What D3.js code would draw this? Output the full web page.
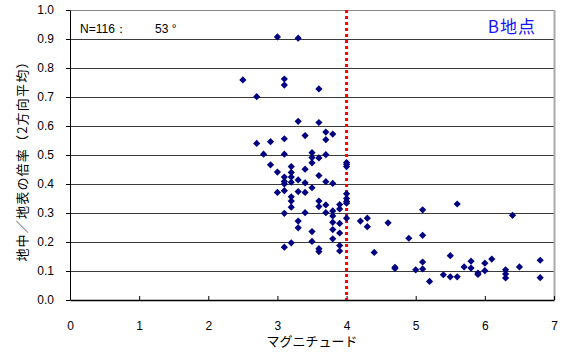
<!DOCTYPE html>
<html>
<head>
<meta charset="utf-8">
<script src="https://cdn.jsdelivr.net/npm/d3@7/dist/d3.min.js"></script>
<style>
  body { margin: 0; background: #fff; }
  text { font-family: "Liberation Sans", Arial, sans-serif; }
  .jp { font-family: "Noto Sans CJK JP", sans-serif; }
</style>
</head>
<body>
<svg id="chart" width="563" height="354"></svg>
<script>
// magnitude (x) and ratio deep/surface (y)
const magnitude = [
  3.0, 3.3, 2.5, 3.1, 3.1, 3.6, 2.7, 3.3, 3.6, 3.7,
  3.8, 3.4, 3.7, 3.1, 2.9, 2.7, 2.8, 3.1, 3.5, 3.5,
  3.6, 3.7, 3.5, 4.0, 4.0, 2.9, 3.2, 3.4, 3.0, 3.2,
  3.1, 3.2, 3.3, 3.6, 3.1, 3.2, 3.4, 3.7, 3.8, 3.0,
  3.1, 3.3, 3.4, 3.5, 3.2, 3.2, 3.2, 3.6, 3.6, 3.7,
  4.0, 4.0, 4.0, 3.9, 3.9, 3.8, 3.7, 3.8, 4.0, 3.8,
  3.9, 3.8, 3.9, 3.8, 3.9, 3.9, 3.1, 3.4, 3.3, 3.3,
  3.5, 3.5, 3.2, 3.1, 3.6, 3.6, 4.2, 4.3, 4.3, 4.6,
  5.1, 5.6, 6.4, 4.9, 5.1, 4.4, 4.7, 5.0, 5.1, 5.1,
  5.2, 5.4, 5.5, 5.5, 5.6, 5.7, 5.8, 5.8, 5.9, 6.0,
  6.0, 6.1, 6.3, 6.3, 6.3, 6.5, 6.8, 6.8, 4.7, 5.9,
  4.0, 3.1, 4.0
];
const ratio = [
  0.907, 0.903, 0.759, 0.762, 0.741, 0.728, 0.701, 0.616, 0.612, 0.579,
  0.572, 0.567, 0.553, 0.556, 0.546, 0.540, 0.503, 0.503, 0.508, 0.491,
  0.490, 0.501, 0.473, 0.468, 0.460, 0.466, 0.460, 0.451, 0.441, 0.440,
  0.424, 0.424, 0.414, 0.429, 0.409, 0.406, 0.404, 0.408, 0.402, 0.371,
  0.377, 0.374, 0.371, 0.387, 0.356, 0.341, 0.320, 0.341, 0.322, 0.328,
  0.366, 0.350, 0.340, 0.329, 0.314, 0.307, 0.301, 0.290, 0.282, 0.268,
  0.264, 0.243, 0.231, 0.211, 0.188, 0.169, 0.299, 0.301, 0.272, 0.249,
  0.236, 0.202, 0.197, 0.182, 0.177, 0.167, 0.272, 0.282, 0.253, 0.266,
  0.311, 0.331, 0.292, 0.213, 0.223, 0.164, 0.113, 0.104, 0.131, 0.107,
  0.064, 0.087, 0.080, 0.153, 0.080, 0.114, 0.134, 0.110, 0.093, 0.127,
  0.101, 0.141, 0.104, 0.090, 0.076, 0.114, 0.137, 0.077, 0.109, 0.088,
  0.334, 0.400, 0.474
];
const xTicks = [0, 1, 2, 3, 4, 5, 6, 7];
const yTicks = [0, 0.1, 0.2, 0.3, 0.4, 0.5, 0.6, 0.7, 0.8, 0.9, 1.0];
const thresholdMag = 4;
const countLabel = "N=116：";
const angleLabel = "53 °";
const siteLabel = "B地点";
const xTitle = "マグニチュード";
const yTitle = "地中／地表の倍率（2方向平均）";

const margin = {top: 10, right: 9, bottom: 54, left: 70};
const W = 563, H = 354;
const width = W - margin.left - margin.right;
const height = H - margin.top - margin.bottom;

const svg = d3.select("#chart");
const g = svg.append("g")
    .attr("transform", "translate(" + margin.left + "," + margin.top + ")");

const x = d3.scaleLinear().domain([0, 7]).range([0, width]);
const y = d3.scaleLinear().domain([0, 1]).range([height, 0]);

// horizontal grid lines
g.selectAll(".grid")
    .data(yTicks.filter(d => d > 0))
  .enter().append("line")
    .attr("class", "grid")
    .attr("x1", 0).attr("x2", width)
    .attr("y1", d => Math.round(y(d)) + 0.5)
    .attr("y2", d => Math.round(y(d)) + 0.5)
    .attr("stroke", d => d === 1 ? "#888" : "#3a3a3a")
    .attr("stroke-width", 1);

// right border of plot area
g.append("line")
    .attr("x1", width + 0.5).attr("x2", width + 0.5)
    .attr("y1", 0).attr("y2", height)
    .attr("stroke", "#aaa").attr("stroke-width", 2);

// y axis
const yAxis = g.append("g")
    .call(d3.axisLeft(y).tickValues(yTicks).tickFormat(d3.format(".1f"))
      .tickSize(4).tickSizeOuter(0).tickPadding(12));
yAxis.selectAll("text").attr("font-size", 12).attr("fill", "#000")
    .attr("font-family", "'Liberation Sans', Arial, sans-serif");
yAxis.selectAll("line,path").attr("stroke", "#000");

// x axis, ticks pointing inward
const xAxis = g.append("g")
    .attr("transform", "translate(0," + height + ")")
    .call(d3.axisBottom(x).tickValues(xTicks).tickFormat(d3.format("d"))
      .tickSize(-4).tickSizeOuter(0).tickPadding(21));
xAxis.selectAll("text").attr("font-size", 12).attr("fill", "#000")
    .attr("font-family", "'Liberation Sans', Arial, sans-serif");
xAxis.selectAll("line").attr("stroke", "#000");
xAxis.select(".domain").attr("stroke", "#000").attr("stroke-width", 1.5);

// threshold line at M4
g.append("line")
    .attr("x1", x(thresholdMag)).attr("x2", x(thresholdMag))
    .attr("y1", y(1)).attr("y2", y(0))
    .attr("stroke", "#ff0000")
    .attr("stroke-width", 3)
    .attr("stroke-dasharray", "3,3");

// points as diamonds
const diamond = "M0,-3.6L3.6,0L0,3.6L-3.6,0Z";
const dataset = magnitude.map((m, i) => ({m: m, r: ratio[i]}));
g.selectAll(".dot")
    .data(dataset)
  .enter().append("path")
    .attr("class", "dot")
    .attr("d", diamond)
    .attr("transform", d => "translate(" + x(d.m) + "," + y(d.r) + ")")
    .attr("fill", "#000080");

// annotations
g.append("text")
    .attr("x", 10).attr("y", 23)
    .attr("font-size", 12)
    .text(countLabel);
g.append("text")
    .attr("x", 85).attr("y", 23)
    .attr("font-size", 12)
    .text(angleLabel);
g.append("text")
    .attr("class", "jp")
    .attr("x", width - 18).attr("y", 23)
    .attr("text-anchor", "end")
    .attr("font-size", 17)
    .attr("letter-spacing", 1)
    .attr("fill", "#1414ff")
    .text(siteLabel);

// axis titles
svg.append("text")
    .attr("class", "jp")
    .attr("x", margin.left + width / 2)
    .attr("y", 346)
    .attr("text-anchor", "middle")
    .attr("font-size", 13)
    .text(xTitle);
svg.append("text")
    .attr("class", "jp")
    .attr("transform", "translate(27," + (margin.top + 148) + ") rotate(-90)")
    .attr("text-anchor", "middle")
    .attr("font-size", 13)
    .attr("letter-spacing", 1.2)
    .text(yTitle);
</script>
</body>
</html>
